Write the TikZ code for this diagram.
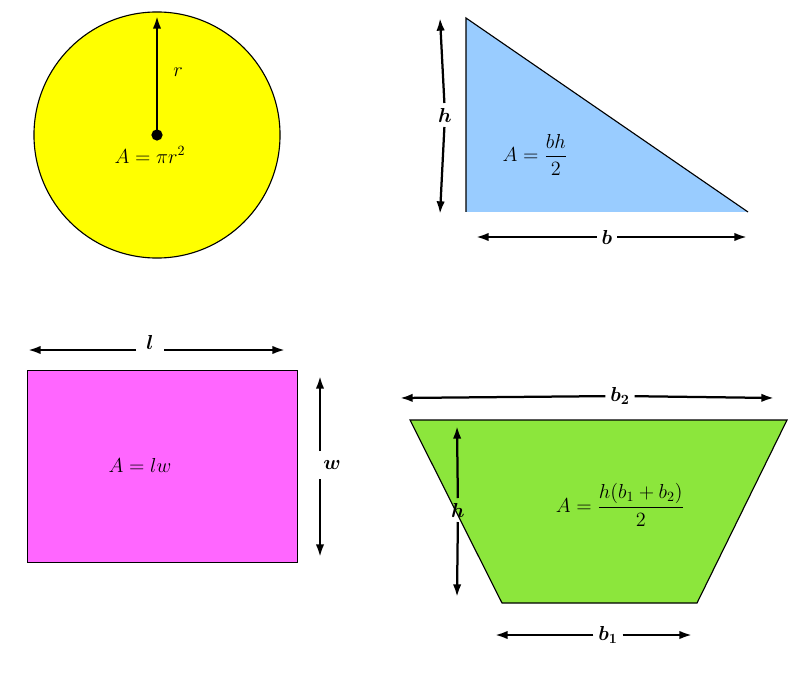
\documentclass[tikz,border=0pt]{standalone}
\usepackage{amsmath}
\usepackage{tikz}
\usetikzlibrary{arrows.meta}
\definecolor{cyellow}{RGB}{255,255,0}
\definecolor{cblue}{RGB}{153,204,255}
\definecolor{cpink}{RGB}{255,102,255}
\definecolor{cgreen}{RGB}{140,230,60}
\newcommand{\lbl}[1]{\Large\(\boldsymbol{#1}\)}

\begin{document}
\begin{tikzpicture}[x=0.025cm, y=-0.025cm,
    arr/.style = {-{Latex[length=9pt,width=6pt]}, line width=1.6pt},
    frm/.style = {font=\Large}]
      \useasboundingbox (0,0) rectangle (800,682);
      % circle
      \node[draw, circle, fill=cyellow, line width=0.8pt, inner sep=0pt, minimum size=6.15cm] (C) at (157,135) {};
      \fill (C.center) circle (4pt);
      \coordinate (Ctop) at (157,16);
      \draw[arr] (C.center) -- (Ctop);
      \node (r) at (178,72) {\Large\(r\)};
      \node[frm] (Acirc) at (150,155) {\(A=\pi r^2\)};
      % triangle
      \coordinate (T1) at (466,18);
      \coordinate (T2) at (466,212);
      \coordinate (T3) at (748,212);
      \fill[cblue] (T1) -- (T2) -- (T3) -- cycle;
      \draw[line width=0.8pt] (T2) -- (T1) -- (T3);
      \node (th) at (445,115) {\lbl{h}};
      \coordinate (thtop) at (440,18);
      \coordinate (thbot) at (440,214);
      \draw[arr] (th) -- (thtop);
      \draw[arr] (th) -- (thbot);
      \node (tb) at (607,237) {\lbl{b}};
      \coordinate (tbl) at (476,237);
      \coordinate (tbr) at (747,237);
      \draw[arr] (tb) -- (tbl);
      \draw[arr] (tb) -- (tbr);
      \node[frm] (Atri) at (535,155) {\(A=\dfrac{bh}{2}\)};
      % rectangle
      \node[draw, fill=cpink, line width=0.8pt, minimum width=6.75cm, minimum height=4.8cm, anchor=north west, inner sep=0pt] (R) at (27,370) {};
      \node (rl) at (150,342) {\lbl{l}};
      \coordinate (rll) at (28,350);
      \coordinate (rlr) at (285,350);
      \coordinate (rlc) at (150,350);
      \draw[arr] (rlc) ++(-14,0) -- (rll);
      \draw[arr] (rlc) ++(14,0) -- (rlr);
      \node (rw) at (332,465) {\lbl{w}};
      \coordinate (rwc) at (320,465);
      \coordinate (rwt) at (320,376);
      \coordinate (rwb) at (320,557);
      \draw[arr] (rwc) ++(0,-14) -- (rwt);
      \draw[arr] (rwc) ++(0,14) -- (rwb);
      \node[frm] (Arect) at (140,465) {\(A=lw\)};
      % trapezoid
      \coordinate (Q1) at (410,420);
      \coordinate (Q2) at (787,420);
      \coordinate (Q3) at (697,603);
      \coordinate (Q4) at (502,603);
      \filldraw[fill=cgreen, line width=0.8pt] (Q1) -- (Q2) -- (Q3) -- (Q4) -- cycle;
      \node (qb2) at (620,396) {\lbl{b_2}};
      \coordinate (qb2l) at (400,398);
      \coordinate (qb2r) at (774,398);
      \draw[arr] (qb2) -- (qb2l);
      \draw[arr] (qb2) -- (qb2r);
      \node (qb1) at (608,635) {\lbl{b_1}};
      \coordinate (qb1l) at (495,635);
      \coordinate (qb1r) at (692,635);
      \draw[arr] (qb1) -- (qb1l);
      \draw[arr] (qb1) -- (qb1r);
      \node (qh) at (458,510) {\lbl{h}};
      \coordinate (qht) at (457,426);
      \coordinate (qhb) at (457,597);
      \draw[arr] (qh) -- (qht);
      \draw[arr] (qh) -- (qhb);
      \node[frm] (Atrap) at (620,505) {\(A=\dfrac{h(b_1+b_2)}{2}\)};
\end{tikzpicture}
\end{document}
